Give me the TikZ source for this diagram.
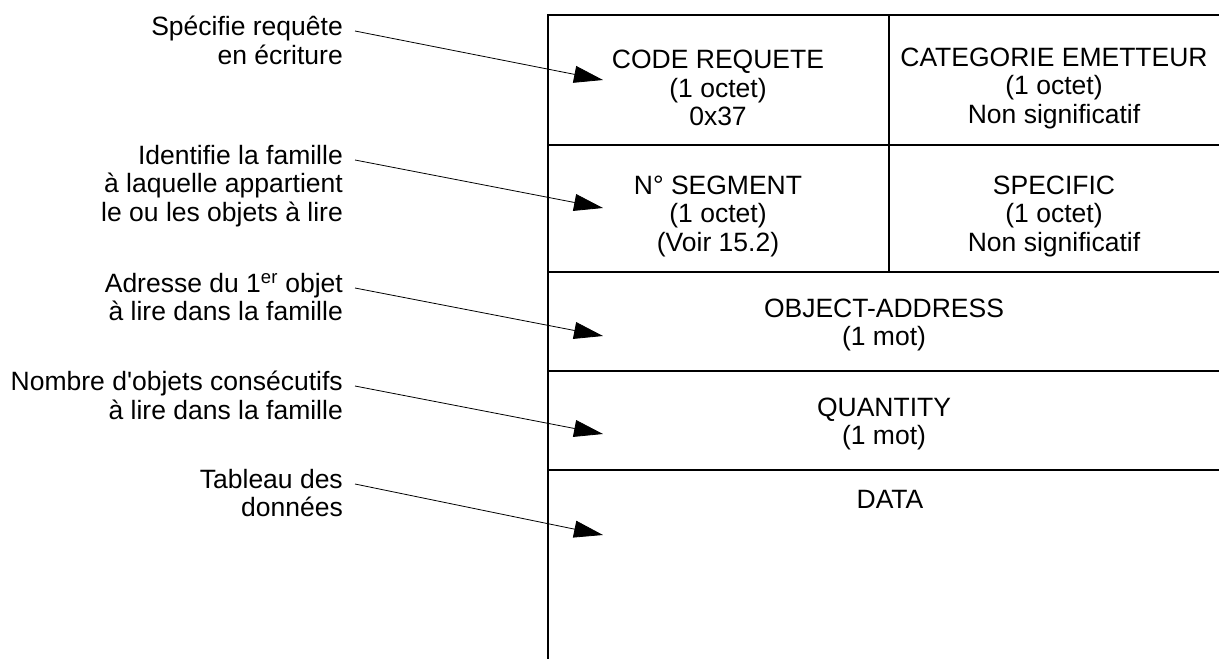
\documentclass[tikz,border=0pt]{standalone}
\usepackage{fontspec}
\setmainfont{Liberation Sans}
\usetikzlibrary{arrows.meta}

\begin{document}
\begin{tikzpicture}[x=1pt, y=-1pt,
    note/.style={align=right, anchor=north east, inner sep=0pt, font=\fontsize{26.5}{28.5}\selectfont},
    field/.style={align=center, inner sep=0pt, font=\fontsize{26.5}{28.5}\selectfont},
    grid/.style={line width=2.8pt},
    pointer/.style={line width=0.8pt, -{Triangle[length=29pt, width=17pt]}}]
    \useasboundingbox (0,0) rectangle (1219,659);

    % trame du message
    \draw[grid] (1225,15) -- (548,15) -- (548,665);
    \draw[grid] (889,15) -- (889,272);
    \draw[grid] (548,145) -- (1225,145);
    \draw[grid] (548,272) -- (1225,272);
    \draw[grid] (548,371) -- (1225,371);
    \draw[grid] (548,470) -- (1225,470);

    \node[field] (code) at (718,88) {CODE REQUETE\\(1 octet)\\0x37};
    \node[field] (cat) at (1054,88) {CATEGORIE EMETTEUR\\(1 octet)\\Non significatif};
    \node[field] (seg) at (718,216) {N° SEGMENT\\(1 octet)\\(Voir 15.2)};
    \node[field] (spec) at (1054,216) {SPECIFIC\\(1 octet)\\Non significatif};
    \node[field] (addr) at (884,325) {OBJECT-ADDRESS\\(1 mot)};
    \node[field] (qty) at (884,424) {QUANTITY\\(1 mot)};
    \node[field] (data) at (890,499) {DATA};

    % commentaires
    \node[note] (n1) at (343,16) {Spécifie requête\\en écriture};
    \node[note] (n2) at (343,145) {Identifie la famille\\à laquelle appartient\\le ou les objets à lire};
    \node[note] (n3) at (343,273) {Adresse du 1\textsuperscript{er} objet\\à lire dans la famille};
    \node[note] (n4) at (343,371) {Nombre d\textquotesingle objets consécutifs\\à lire dans la famille};
    \node[note] (n5) at (343,469) {Tableau des\\données};

    \coordinate (t1) at (603,80);
    \coordinate (t2) at (603,208);
    \coordinate (t3) at (603,336);
    \coordinate (t4) at (603,434);
    \coordinate (t5) at (603,535);

    \draw[pointer] ([shift={(12,15)}]n1.north east) -- (t1);
    \draw[pointer] ([shift={(12,15)}]n2.north east) -- (t2);
    \draw[pointer] ([shift={(12,15)}]n3.north east) -- (t3);
    \draw[pointer] ([shift={(12,15)}]n4.north east) -- (t4);
    \draw[pointer] ([shift={(12,15)}]n5.north east) -- (t5);
\end{tikzpicture}
\end{document}
